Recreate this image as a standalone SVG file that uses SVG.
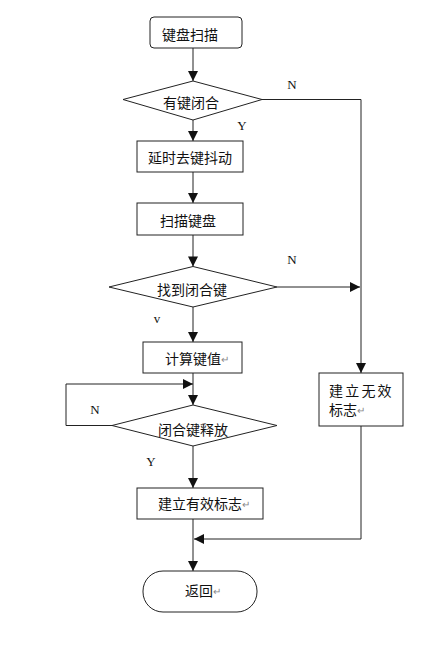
<svg xmlns="http://www.w3.org/2000/svg" width="435" height="654" viewBox="0 0 435 654">
<style>
.box{fill:#fff;stroke:#222;stroke-width:1}
.ln{fill:none;stroke:#222;stroke-width:1}
.t{font-family:"Noto Sans CJK SC","Noto Sans",sans-serif;font-size:14px;fill:#111;dominant-baseline:central}
.lb{font-family:"Liberation Serif",serif;font-size:13px;fill:#111;text-anchor:middle}
.rt{fill:#888;font-size:10px}
</style>
<defs>
<marker id="ah" viewBox="0 0 10 10" refX="10" refY="5" markerWidth="11" markerHeight="10" markerUnits="userSpaceOnUse" orient="auto">
<path d="M0,0 L10,5 L0,10 z" fill="#111"/>
</marker>
</defs>
<rect width="435" height="654" fill="#fff"/>
<g id="connectors" class="ln" marker-end="url(#ah)">
<path d="M193,48 V81"/>
<path d="M193,120 V141"/>
<path d="M193,172 V203"/>
<path d="M193,235 V266.5"/>
<path d="M193,307 V342"/>
<path d="M193,373 V405"/>
<path d="M193,446 V488"/>
<path d="M193,519 V571"/>
<path d="M262,99.5 H361 V373"/>
<path d="M277,287 H360"/>
<path d="M112,425.5 H66 V384 H193"/>
<path d="M361,426 V539 H194"/>
</g>
<g id="n1"><rect class="box" x="150" y="17" width="92" height="31" rx="4"/><text class="t" x="162" y="34">键盘扫描</text></g>
<g id="n2"><polygon class="box" points="193,81 262,99.5 193,120 123,99.5"/><text class="t" x="163" y="102">有键闭合</text></g>
<g id="n3"><rect class="box" x="137" y="141" width="106" height="31"/><text class="t" x="148" y="157">延时去键抖动</text></g>
<g id="n4"><rect class="box" x="137" y="203" width="106" height="32"/><text class="t" x="160" y="220">扫描键盘</text></g>
<g id="n5"><polygon class="box" points="193,266.5 277,287 193,307 109,287"/><text class="t" x="157" y="289">找到闭合键</text></g>
<g id="n6"><rect class="box" x="143" y="342" width="99" height="31"/><text class="t" x="165" y="358">计算键值<tspan class="rt">↵</tspan></text></g>
<g id="n7"><polygon class="box" points="193,405 277,425.5 193,446 112,425.5"/><text class="t" x="158" y="429">闭合键释放</text></g>
<g id="n8"><rect class="box" x="137" y="488" width="126" height="31"/><text class="t" x="158" y="503">建立有效标志<tspan class="rt">↵</tspan></text></g>
<g id="n9"><rect class="box" x="319" y="373" width="84" height="53"/><text class="t" x="329" y="390" letter-spacing="2.2">建立无效</text><text class="t" x="329" y="409">标志<tspan class="rt">↵</tspan></text></g>
<g id="n10"><rect class="box" x="143" y="571" width="114" height="41" rx="20"/><text class="t" x="185" y="590">返回<tspan class="rt">↵</tspan></text></g>
<g id="labels">
<text class="lb" x="292" y="89">N</text>
<text class="lb" x="242" y="130">Y</text>
<text class="lb" x="292" y="264">N</text>
<text class="lb" x="157" y="323">v</text>
<text class="lb" x="95" y="414">N</text>
<text class="lb" x="151" y="466">Y</text>
</g>
</svg>
